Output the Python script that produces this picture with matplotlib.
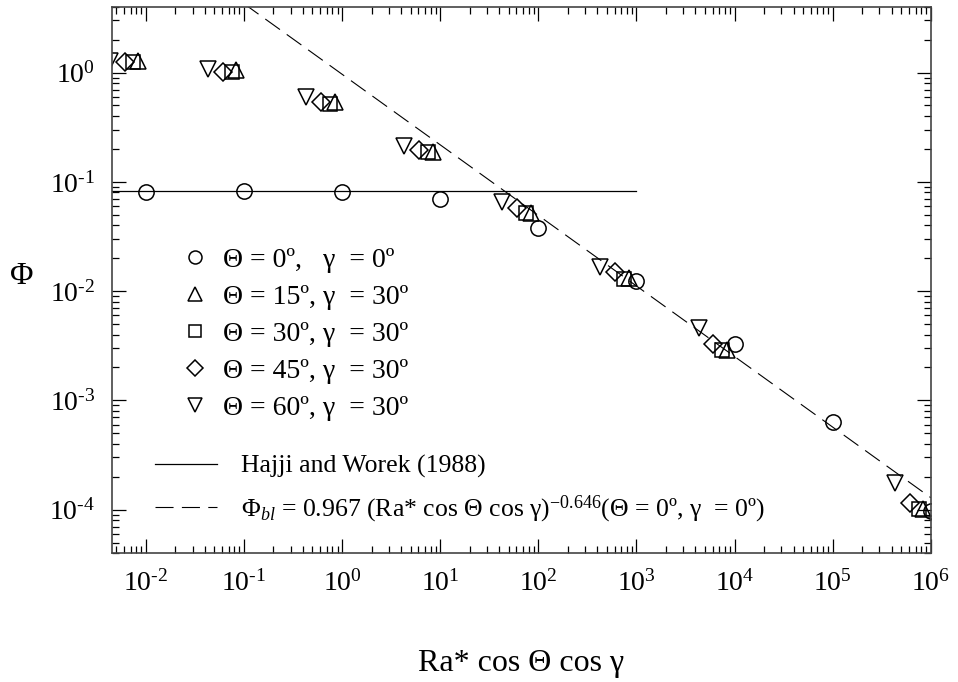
import matplotlib
matplotlib.use("Agg")
import matplotlib.pyplot as plt
import numpy as np
from matplotlib.ticker import LogLocator, FuncFormatter, NullFormatter

plt.rcParams['font.family'] = 'Liberation Serif'
plt.rcParams['mathtext.fontset'] = 'custom'
plt.rcParams['mathtext.rm'] = 'Liberation Serif'
plt.rcParams['mathtext.it'] = 'Liberation Serif:italic'
plt.rcParams['lines.scale_dashes'] = False

# Ra* cos(Theta) cos(gamma) and Phi
x_t0 = [0.01, 0.1, 1, 10, 100, 1000, 1e4, 1e5, 1e6]
phi_t0 = [0.081, 0.083, 0.081, 0.070, 0.038, 0.0125, 0.0033, 0.00064, 0.000098]

x_t15 = [0.0084, 0.084, 0.84, 8.4, 84, 840, 8400, 840000]
phi_t15 = [1.29, 1.05, 0.54, 0.188, 0.052, 0.0131, 0.0029, 0.000101]

x_t30 = [0.0075, 0.075, 0.75, 7.5, 75, 750, 7500, 750000]
phi_t30 = [1.25, 1.02, 0.52, 0.188, 0.0515, 0.0130, 0.0029, 0.000101]

x_t45 = [0.0061, 0.061, 0.61, 6.1, 61, 610, 6100, 610000]
phi_t45 = [1.25, 1.02, 0.54, 0.196, 0.0577, 0.0149, 0.00327, 0.000116]

x_t60 = [0.0043, 0.043, 0.43, 4.3, 43, 430, 4300, 430000]
phi_t60 = [1.27, 1.09, 0.60, 0.214, 0.066, 0.0166, 0.00464, 0.000177]

# Hajji and Worek (1988)
hajji_x = [0.0045, 1000]
hajji_phi = [0.082, 0.082]

# boundary layer fit
fit_c = 0.967
fit_n = -0.646
fit_x = np.array([0.1, 1e6])

x_major = [1e-2, 1e-1, 1e0, 1e1, 1e2, 1e3, 1e4, 1e5, 1e6]
y_major = [1e-4, 1e-3, 1e-2, 1e-1, 1e0]

fig = plt.figure(figsize=(9.58, 6.82), dpi=100)
ax = fig.add_axes([0.1166, 0.189, 0.855, 0.801])

mk = dict(linestyle='none', markerfacecolor='none', markeredgecolor='black',
          markeredgewidth=1.1)
ax.plot(x_t0, phi_t0, marker='o', markersize=11, **mk)
ax.plot(x_t15, phi_t15, marker='^', markersize=12, **mk)
ax.plot(x_t30, phi_t30, marker='s', markersize=10, **mk)
ax.plot(x_t45, phi_t45, marker='D', markersize=9, **mk)
ax.plot(x_t60, phi_t60, marker='v', markersize=12, **mk)
l1, = ax.plot(hajji_x, hajji_phi, color='black', lw=0.9)
l2, = ax.plot(fit_x, fit_c * fit_x ** fit_n, color='black', lw=0.8,
              dashes=(13, 6))

ax.set_xscale('log')
ax.set_yscale('log')
ax.set_xlim(4.5e-3, 1e6)
ax.set_ylim(4e-5, 4)


def pow_label(v, pos):
    e = int(round(np.log10(v)))
    if e < 0:
        return r'$\mathregular{10^{\text{-}%d}}$' % (-e)
    return r'$\mathregular{10^{%d}}$' % e


ax.set_xticks(x_major)
ax.set_yticks(y_major)
for a in (ax.xaxis, ax.yaxis):
    a.set_minor_locator(LogLocator(base=10, subs=np.arange(2, 10), numticks=20))
    a.set_major_formatter(FuncFormatter(pow_label))
    a.set_minor_formatter(NullFormatter())

ax.tick_params(which='both', direction='in', top=True, right=True,
               labelsize=20)
ax.tick_params(which='major', length=10, width=0.9)
ax.tick_params(which='minor', length=5, width=0.9)
ax.tick_params(axis='x', pad=12)
ax.tick_params(axis='y', pad=12)
for s in ax.spines.values():
    s.set_linewidth(1.2)
    s.set_color('#444444')

ax.set_xlabel('Ra* cos Θ cos γ', fontsize=23, labelpad=38)
ax.set_ylabel('Φ', fontsize=23, rotation=0)
ax.yaxis.set_label_coords(-0.11, 0.48)

markers = [('o', 11), ('^', 12), ('s', 10), ('D', 9), ('v', 12)]
labels = ['Θ = 0º,   γ  = 0º', 'Θ = 15º, γ  = 30º', 'Θ = 30º, γ  = 30º',
          'Θ = 45º, γ  = 30º', 'Θ = 60º, γ  = 30º']
handles = [plt.Line2D([], [], marker=m, markersize=s * 0.85, **mk)
           for m, s in markers]
leg1 = ax.legend(handles, labels, loc='upper left', frameon=False,
                 bbox_to_anchor=(0.087, 0.56), fontsize=20, handlelength=0.85,
                 handletextpad=0.6, labelspacing=0.42, borderpad=0,
                 borderaxespad=0)
ax.add_artist(leg1)
ax.legend([l1, l2],
          ['Hajji and Worek (1988)',
           'Φ$_{bl}$ = 0.967 (Ra* cos Θ cos γ)$^{-0.646}$(Θ = 0º, γ  = 0º)'],
          loc='upper left', frameon=False, bbox_to_anchor=(0.053, 0.18),
          fontsize=18.5, handlelength=2.4, handletextpad=0.95, labelspacing=0.6,
          borderpad=0, borderaxespad=0)

fig.savefig('out.png', dpi=100)
